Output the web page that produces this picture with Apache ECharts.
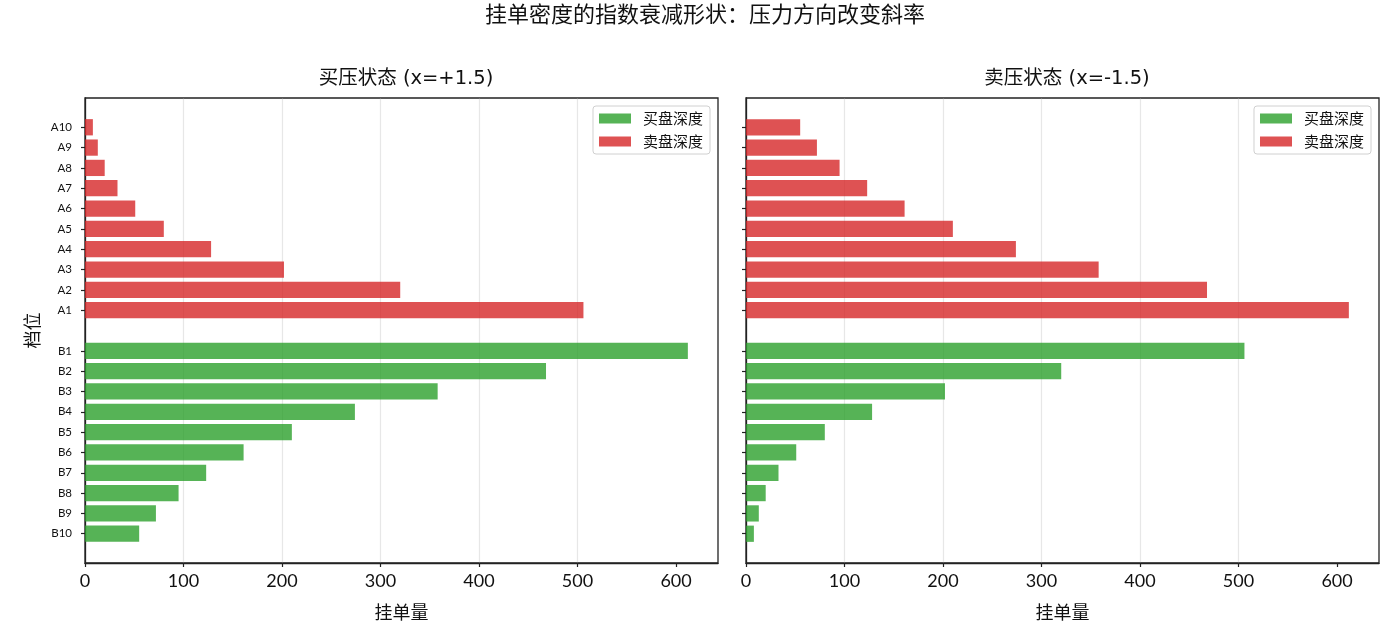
<!doctype html>
<html lang="zh-CN">

<head>
    <meta charset="utf-8" />
    <title>挂单密度的指数衰减形状</title>
    <script type="text/javascript" src="https://cdn.jsdelivr.net/npm/echarts@6.0.0/dist/echarts.min.js"></script>
    <style>
        html, body { margin: 0; padding: 0; background: #fff; }
        #chart { width: 1400px; height: 644px; }
    </style>
</head>

<body>
    <div id="chart"></div>
</body>

<script type="text/javascript">
    // 档位标签（A = 卖盘, B = 买盘），第 i 档放在 y = +i / -i 处
    let askLabels = ['A1', 'A2', 'A3', 'A4', 'A5', 'A6', 'A7', 'A8', 'A9', 'A10'];
    let bidLabels = ['B1', 'B2', 'B3', 'B4', 'B5', 'B6', 'B7', 'B8', 'B9', 'B10'];

    // 买压状态 (x=+1.5)
    let buyPressureBid = [612, 468, 358, 274, 210, 161, 123, 95, 72, 55];
    let buyPressureAsk = [506, 320, 202, 128, 80, 51, 33, 20, 13, 8];

    // 卖压状态 (x=-1.5)
    let sellPressureBid = [506, 320, 202, 128, 80, 51, 33, 20, 13, 8];
    let sellPressureAsk = [612, 468, 358, 274, 210, 161, 123, 95, 72, 55];

    let xTicks = [0, 100, 200, 300, 400, 500, 600];
    let panelTitles = ['买压状态 (x=+1.5)', '卖压状态 (x=-1.5)'];

    const GREEN = 'rgba(44,160,44,0.8)';
    const RED = 'rgba(214,39,40,0.8)';
    const FONT = 'Lato, "Noto Sans CJK SC", sans-serif';
    const WIDE = '"DejaVu Sans", "Noto Sans CJK SC", sans-serif';
    const CJK = '"Noto Sans CJK SC", Lato, sans-serif';

    let levelPos = [];
    let levelName = {};
    askLabels.forEach((l, i) => { levelPos.push(i + 1); levelName[i + 1] = l; });
    bidLabels.forEach((l, i) => { levelPos.push(-(i + 1)); levelName[-(i + 1)] = l; });

    let toPoints = function (vals, sign) {
        return vals.map((v, i) => [v, sign * (i + 1)]);
    };

    // 横向柱子：y 为数值轴，用 custom 画矩形，高度 0.8 档
    let renderBar = function (params, api) {
        let v = api.value(0);
        let y = api.value(1);
        let p0 = api.coord([0, y + 0.4]);
        let p1 = api.coord([v, y - 0.4]);
        let rect = echarts.graphic.clipRectByRect({
            x: p0[0], y: p0[1], width: p1[0] - p0[0], height: p1[1] - p0[1]
        }, params.coordSys);
        return rect && {
            type: 'rect',
            shape: rect,
            style: { fill: api.visual('color') }
        };
    };

    let grids = [
        { left: 85, right: 682, top: 98, bottom: 81 },
        { left: 746, right: 21, top: 98, bottom: 81 }
    ];

    let xAxisOf = function (idx) {
        return {
            gridIndex: idx,
            type: 'value',
            min: 0,
            max: 642.6,
            interval: 100,
            name: '挂单量',
            nameLocation: 'middle',
            nameGap: 40,
            nameTextStyle: { fontFamily: CJK, fontSize: 18, color: '#111' },
            axisLine: { show: true, onZero: false, lineStyle: { color: '#222', width: 1.3 } },
            axisTick: {
                show: true, inside: false, length: 4,
                customValues: xTicks,
                lineStyle: { color: '#222', width: 1.2 }
            },
            axisLabel: {
                fontFamily: FONT, fontSize: 18, color: '#111', margin: 9,
                customValues: xTicks
            },
            splitLine: { show: true, showMinLine: false, showMaxLine: false, lineStyle: { color: 'rgba(176,176,176,0.3)', width: 1.2 } }
        };
    };

    let yAxisOf = function (idx, withLabels) {
        return {
            gridIndex: idx,
            type: 'value',
            min: -11.44,
            max: 11.44,
            name: withLabels ? '档位' : '',
            nameLocation: 'middle',
            nameGap: 44,
            nameRotate: 90,
            nameTextStyle: { fontFamily: CJK, fontSize: 18, color: '#111' },
            axisLine: { show: true, onZero: false, lineStyle: { color: '#222', width: 1.3 } },
            axisTick: {
                show: true, inside: false, length: 4,
                customValues: levelPos,
                lineStyle: { color: '#222', width: 1.2 }
            },
            axisLabel: {
                show: withLabels,
                customValues: levelPos,
                fontFamily: FONT, fontSize: 11.5, color: '#111', margin: 13,
                formatter: v => levelName[Math.round(v)] || ''
            },
            splitLine: { show: false }
        };
    };

    let seriesOf = function (idx, bid, ask) {
        return [
            {
                name: '买盘深度', type: 'custom', xAxisIndex: idx, yAxisIndex: idx,
                renderItem: renderBar, itemStyle: { color: GREEN },
                encode: { x: 0, y: 1 }, data: toPoints(bid, -1), z: 3
            },
            {
                name: '卖盘深度', type: 'custom', xAxisIndex: idx, yAxisIndex: idx,
                renderItem: renderBar, itemStyle: { color: RED },
                encode: { x: 0, y: 1 }, data: toPoints(ask, 1), z: 3
            }
        ];
    };

    let legendOf = function (right) {
        return {
            orient: 'vertical',
            right: right,
            top: 106,
            data: ['买盘深度', '卖盘深度'],
            icon: 'rect',
            itemWidth: 32,
            itemHeight: 10,
            itemGap: 8,
            padding: [5, 7, 5, 6],
            backgroundColor: 'rgba(255,255,255,0.8)',
            borderColor: '#d0d0d0',
            borderWidth: 1,
            borderRadius: 3,
            textStyle: { fontFamily: CJK, fontSize: 15, color: '#111', padding: [0, 0, 0, 7] }
        };
    };

    let chart = echarts.init(document.getElementById('chart'), null, { renderer: 'canvas' });

    let option = {
        backgroundColor: '#fff',
        animation: false,
        title: [
            {
                text: '挂单密度的指数衰减形状：压力方向改变斜率',
                left: 700, top: -2, textAlign: 'center',
                textStyle: { fontFamily: CJK, fontSize: 22, fontWeight: 'normal', color: '#111' }
            },
            {
                text: panelTitles[0],
                left: 401, top: 64, textAlign: 'center',
                textStyle: { fontFamily: WIDE, fontSize: 19.5, fontWeight: 'normal', color: '#111' }
            },
            {
                text: panelTitles[1],
                left: 1062, top: 64, textAlign: 'center',
                textStyle: { fontFamily: WIDE, fontSize: 19.5, fontWeight: 'normal', color: '#111' }
            }
        ],
        grid: grids.map(g => Object.assign({
            show: true, borderColor: '#222', borderWidth: 1.3, backgroundColor: 'transparent'
        }, g)),
        legend: [legendOf(690), legendOf(29)],
        xAxis: [xAxisOf(0), xAxisOf(1)],
        yAxis: [yAxisOf(0, true), yAxisOf(1, false)],
        series: [
            ...seriesOf(0, buyPressureBid, buyPressureAsk),
            ...seriesOf(1, sellPressureBid, sellPressureAsk)
        ]
    };

    chart.setOption(option);
</script>

</html>
